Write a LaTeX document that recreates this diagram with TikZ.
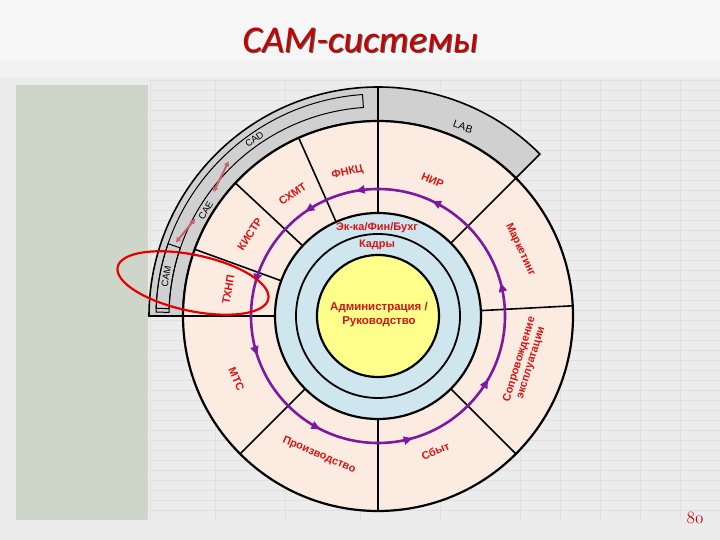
\documentclass[tikz,border=0pt]{standalone}
\usepackage{fontspec}
\setmainfont{Liberation Sans}
\newfontfamily\titlefont{Carlito}
\usetikzlibrary{arrows.meta,decorations.markings}
\definecolor{pinkf}{RGB}{252,235,224}
\definecolor{bluef}{RGB}{208,230,238}
\definecolor{yellowf}{RGB}{255,255,140}
\definecolor{grayf}{RGB}{208,208,208}
\definecolor{labred}{RGB}{215,20,20}
\definecolor{purp}{RGB}{125,25,160}
\definecolor{bgc}{RGB}{236,236,236}
\definecolor{greenc}{RGB}{205,214,200}
\definecolor{gridc}{RGB}{224,224,224}
\definecolor{titlered}{RGB}{200,0,0}
\definecolor{arrpink}{RGB}{205,95,105}
\tikzset{
  seglbl/.style={text=labred,font=\bfseries\fontsize{11}{12}\selectfont,inner sep=0pt,align=center},
  ring/.style={draw=black,line width=2.2pt},
  divider/.style={draw=black,line width=1.6pt},
  cadtxt/.style={text=black,font=\fontsize{9.5}{10}\selectfont,inner sep=0pt},
  pinkarrow/.style={draw=arrpink,line width=2pt,{Triangle[length=5pt,width=5pt]}-{Triangle[length=5pt,width=5pt]}}
}
\begin{document}
\begin{tikzpicture}[x=1bp,y=1bp]
\useasboundingbox (0,0) rectangle (720,540);
% background (faded spreadsheet)
\fill[bgc] (0,0) rectangle (720,540);
\fill[white!50!bgc] (0,480) rectangle (720,540);
\fill[white!30!bgc] (0,462) rectangle (720,480);
\fill[greenc] (16,20) rectangle (148,455);
\foreach \yy in {30,40,...,460} {\draw[gridc,line width=0.4pt] (150,\yy) -- (720,\yy);}
\foreach \xx in {150,215,285,360,440,520,560,600,640,680} {\draw[gridc,line width=0.4pt] (\xx,20) -- (\xx,460);}
\coordinate (C) at (378,224);
% gray outer band (CAD / LAB)
\path[fill=grayf,draw=black,line width=1.6pt] ([shift={(45:229)}]C) arc[start angle=45,end angle=180,radius=229]
  -- ([shift={(180:195)}]C) arc[start angle=180,end angle=45,radius=195] -- cycle;
% strip along CAD/CAE/CAM
\path[draw=black,line width=1pt] ([shift={(94:222)}]C) arc[start angle=94,end angle=179,radius=222]
  -- ([shift={(179:209)}]C) arc[start angle=179,end angle=94,radius=209] -- cycle;
% pink annulus
\path[fill=pinkf,ring] (C) circle[radius=195];
\foreach \a in {45,3,-45,-90,-135,160,137,114} {
  \draw[divider] ([shift={(\a:103)}]C) -- ([shift={(\a:195)}]C);
}
\draw[divider] ([shift={(90:103)}]C) -- ([shift={(90:229)}]C);
\draw[divider] ([shift={(180:103)}]C) -- ([shift={(180:229)}]C);
% inner circles
\path[fill=bluef,ring] (C) circle[radius=103];
\draw[ring,line width=1.8pt] (C) circle[radius=82];
\path[fill=yellowf,ring] (C) circle[radius=61];
% purple cycle
\draw[purp,line width=2.6pt,postaction={decorate},
  decoration={markings,
   mark=at position 0.042 with {\arrow{Triangle[length=9pt,width=8pt]}},
   mark=at position 0.180 with {\arrow{Triangle[length=9pt,width=8pt]}},
   mark=at position 0.278 with {\arrow{Triangle[length=9pt,width=8pt]}},
   mark=at position 0.347 with {\arrow{Triangle[length=9pt,width=8pt]}},
   mark=at position 0.458 with {\arrow{Triangle[length=9pt,width=8pt]}},
   mark=at position 0.550 with {\arrow{Triangle[length=9pt,width=8pt]}},
   mark=at position 0.675 with {\arrow{Triangle[length=9pt,width=8pt]}},
   mark=at position 0.794 with {\arrow{Triangle[length=9pt,width=8pt]}},
   mark=at position 0.917 with {\arrow{Triangle[length=9pt,width=8pt]}}}]
  ([shift={(0:127)}]C) arc[start angle=0,end angle=360,radius=127];
% segment labels
\node[seglbl,rotate=-22] (nir) at ([shift={(68:146)}]C) {НИР};
\node[seglbl,rotate=12] (fnkc) at ([shift={(102:147)}]C) {ФНКЦ};
\node[seglbl,rotate=35] (shmt) at ([shift={(125:149)}]C) {СХМТ};
\node[seglbl,rotate=57] (kistr) at ([shift={(147.5:152)}]C) {КИСТР};
\node[seglbl,rotate=80] (thnp) at ([shift={(170:152)}]C) {ТХНП};
\node[seglbl,rotate=-65] (mark) at ([shift={(25:157)}]C) {Маркетинг};
\node[seglbl,rotate=73] (sopr) at ([shift={(-17:154)}]C) {Сопровождение\\эксплуатации};
\node[seglbl,rotate=23] (sbyt) at ([shift={(-67:147)}]C) {Сбыт};
\node[seglbl,rotate=-23] (proizv) at ([shift={(-113:151)}]C) {Производство};
\node[seglbl,rotate=-66] (mts) at ([shift={(-156:155)}]C) {МТС};
% inner labels
\node[seglbl] (ek) at (377,312) {Эк-ка/Фин/Бухг};
\node[seglbl] (kadry) at (377,295) {Кадры};
\node[seglbl,font=\bfseries\fontsize{11.5}{12}\selectfont] (adm) at (379,225) {Администрация /\\[2pt]Руководство};
% CAD / LAB labels
\node[cadtxt,font=\fontsize{10.5}{11}\selectfont,rotate=-20] (labl) at (463,413) {LAB};
\node[cadtxt,rotate=35] (cad) at ([shift={(125:215.5)}]C) {CAD};
\node[cadtxt,rotate=60] (cae) at ([shift={(148.5:202)}]C) {CAE};
\path[draw=black,line width=1pt] ([shift={(161:222)}]C) arc[start angle=161,end angle=178,radius=222]
  -- ([shift={(178:209)}]C) arc[start angle=178,end angle=161,radius=209] -- cycle;
\node[cadtxt,rotate=80] (cam) at ([shift={(169.5:215.5)}]C) {CAM};
\coordinate (pa1) at ([shift={(134:215)}]C);
\coordinate (pa2) at ([shift={(143:206)}]C);
\coordinate (pb1) at ([shift={(152:207)}]C);
\coordinate (pb2) at ([shift={(160:215)}]C);
\draw[pinkarrow] (pa1) -- (pa2);
\draw[pinkarrow] (pb1) -- (pb2);
% red ellipse
\draw[red!90!black,line width=2.2pt,rotate around={-12:(193,257)}] (193,257) ellipse[x radius=77,y radius=28];
% title
\node[text=black!65,font=\titlefont\itshape\fontsize{38}{40}\selectfont] at (361.2,498.8) {CAM-системы};
\node[text=titlered,font=\titlefont\itshape\fontsize{38}{40}\selectfont] (title) at (360,500) {CAM-системы};
% page number
\node[text=titlered,font=\fontsize{17}{17}\usefont{OML}{cmm}{m}{it}] (pg) at (695,22) {80};
\end{tikzpicture}
\end{document}
